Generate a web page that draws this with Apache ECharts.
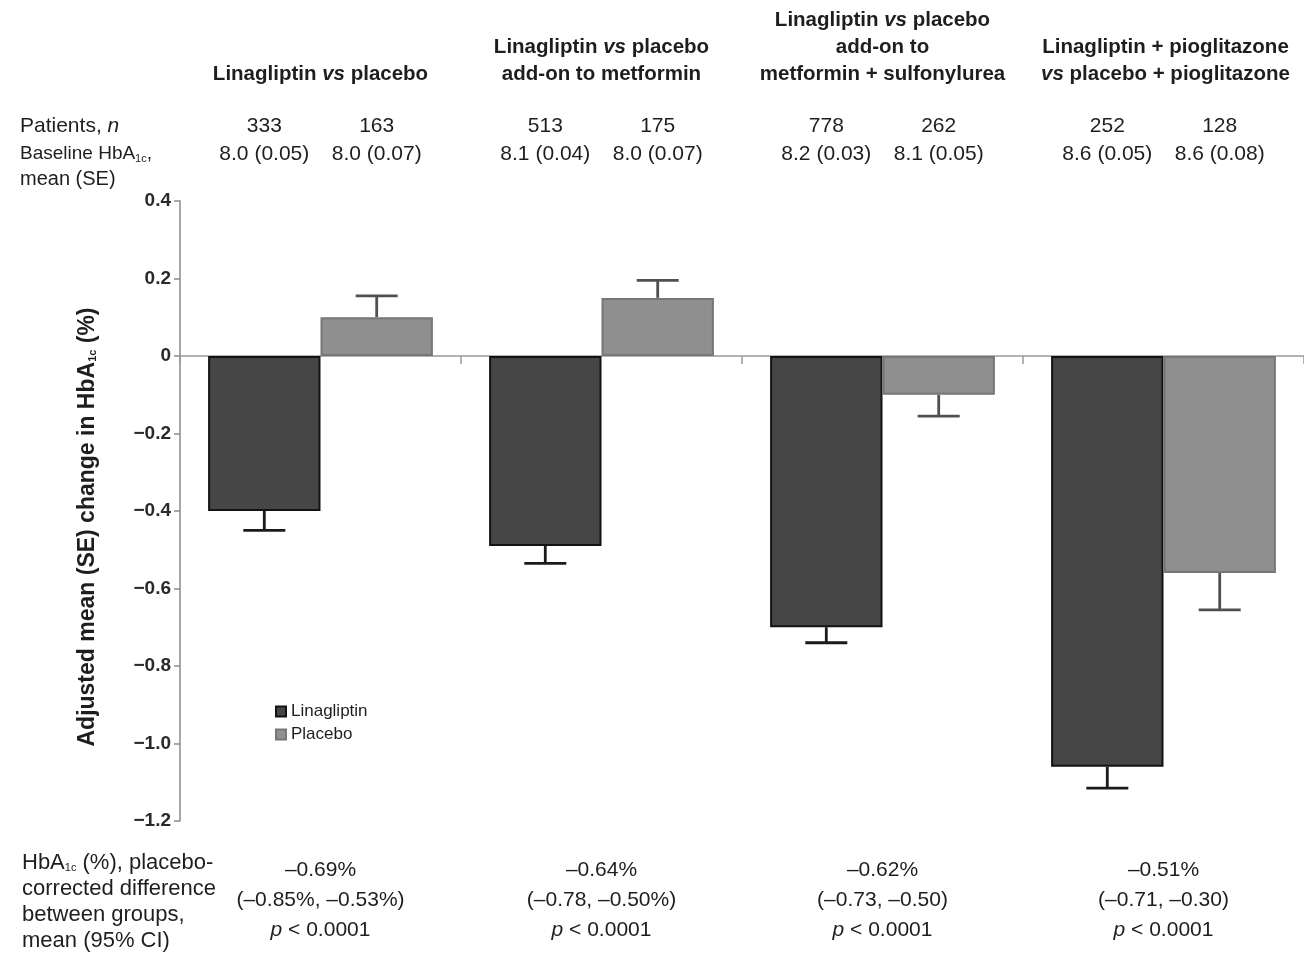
<!DOCTYPE html>
<html>
<head>
<meta charset="utf-8">
<script src="https://cdn.jsdelivr.net/npm/echarts@6/dist/echarts.min.js"></script>
<style>
  html, body { margin: 0; padding: 0; background: #fff; }
  #chart { width: 1304px; height: 956px; }
</style>
</head>
<body>
<div id="chart"></div>
<script>
// Study groups (header lines; {i|...} marks italic words)
const groupTitles = [
  ['Linagliptin {i|vs} placebo'],
  ['Linagliptin {i|vs} placebo', 'add-on to metformin'],
  ['Linagliptin {i|vs} placebo', 'add-on to', 'metformin + sulfonylurea'],
  ['Linagliptin + pioglitazone', '{i|vs} placebo + pioglitazone']
];
const categories = ['Monotherapy', 'Metformin', 'Metformin + SU', 'Pioglitazone'];
const seriesNames = ['Linagliptin', 'Placebo'];

// Patients and baseline HbA1c
const patientsLina = [333, 513, 778, 252];
const patientsPlacebo = [163, 175, 262, 128];
const baselineLina = ['8.0 (0.05)', '8.1 (0.04)', '8.2 (0.03)', '8.6 (0.05)'];
const baselinePlacebo = ['8.0 (0.07)', '8.0 (0.07)', '8.1 (0.05)', '8.6 (0.08)'];

// Adjusted mean change in HbA1c (%) and SE
const linaChange = [-0.40, -0.49, -0.70, -1.06];
const linaSE = [0.05, 0.045, 0.04, 0.055];
const placeboChange = [0.10, 0.15, -0.10, -0.56];
const placeboSE = [0.055, 0.045, 0.055, 0.095];

// Placebo-corrected difference
const diffMean = ['–0.69%', '–0.64%', '–0.62%', '–0.51%'];
const diffCI = ['(–0.85%, –0.53%)', '(–0.78, –0.50%)', '(–0.73, –0.50)', '(–0.71, –0.30)'];
const pValues = ['< 0.0001', '< 0.0001', '< 0.0001', '< 0.0001'];

// Y axis
const yMin = -1.2, yMax = 0.4, yStep = 0.2;

const FONT = '"Liberation Sans", Arial, Helvetica, sans-serif';
const TXT = '#1e1e1e';
const FS = 21;
const LINA_FILL = '#464646', LINA_EDGE = '#121212';
const PLAC_FILL = '#8f8f8f', PLAC_EDGE = '#767676';

const chart = echarts.init(document.getElementById('chart'), null, { renderer: 'canvas' });

const G = { left: 180, right: 0, top: 201, bottom: 135 };
const plotW = 1304 - G.left - G.right;
const band = plotW / categories.length;
const catCenter = i => G.left + band * (i + 0.5);
const barOff = band * 0.2;

function errData(vals, ses, side) {
  return vals.map((v, i) => [i, v, ses[i], side]);
}

function renderErr(color) {
  return function (params, api) {
    const ci = api.value(0), v = api.value(1), se = api.value(2), side = api.value(3);
    const bw = api.size([1, 0])[0];
    const p0 = api.coord([ci, v]);
    const end = v >= 0 ? v + se : v - se;
    const p1 = api.coord([ci, end]);
    const x = p0[0] + side * bw * 0.2;
    const cap = 21;
    const style = { stroke: color, lineWidth: 2.8 };
    return {
      type: 'group',
      children: [
        { type: 'line', shape: { x1: x, y1: p0[1], x2: x, y2: p1[1] }, style },
        { type: 'line', shape: { x1: x - cap, y1: p1[1], x2: x + cap, y2: p1[1] }, style }
      ]
    };
  };
}

const subStyle = (bold) => ({
  sub: { fontSize: 11, fontWeight: bold ? 'bold' : 'normal', fontFamily: FONT, fill: TXT, padding: [10, 0, 0, 0] }
});
const italic = (bold, size) => ({
  i: { fontStyle: 'italic', fontWeight: bold ? 'bold' : 'normal', fontSize: size, fontFamily: FONT, fill: TXT }
});

const graphics = [];
const t = (x, y, text, extra) => {
  graphics.push({
    type: 'text', x, y, silent: true,
    style: Object.assign({
      text, fontFamily: FONT, fontSize: FS, fill: TXT,
      align: 'center', verticalAlign: 'middle'
    }, extra || {})
  });
};

// Headers
groupTitles.forEach((lines, i) => {
  t(catCenter(i) + (i === 3 ? 2 : 0), 88, lines.join('\n'), {
    fontWeight: 'bold', fontSize: 20.5, lineHeight: 27, verticalAlign: 'bottom',
    rich: italic(true, 20.5)
  });
});

// Row labels
t(20, 126, 'Patients, {i|n}', { align: 'left', rich: italic(false, FS) });
t(20, 154, 'Baseline HbA{sub|1c},', { align: 'left', fontSize: 19, rich: subStyle(false) });
t(20, 179, 'mean (SE)', { align: 'left', fontSize: 20 });

// Patients / baseline values
categories.forEach((c, i) => {
  t(catCenter(i) - barOff, 126, String(patientsLina[i]));
  t(catCenter(i) + barOff, 126, String(patientsPlacebo[i]));
  t(catCenter(i) - barOff, 154, baselineLina[i]);
  t(catCenter(i) + barOff, 154, baselinePlacebo[i]);
});

// Bottom annotations
t(22, 902, 'HbA{sub|1c} (%), placebo-\ncorrected difference\nbetween groups,\nmean (95% CI)', {
  align: 'left', fontSize: 22, lineHeight: 26, rich: subStyle(false)
});
categories.forEach((c, i) => {
  t(catCenter(i), 900, diffMean[i] + '\n' + diffCI[i] + '\n{i|p} ' + pValues[i], {
    lineHeight: 30,
    rich: italic(false, FS)
  });
});

// Vertical axis title
graphics.push({
  type: 'text', x: 88, y: 527, rotation: Math.PI / 2, silent: true,
  style: {
    text: 'Adjusted mean (SE) change in HbA{sub|1c} (%)',
    fontFamily: FONT, fontSize: 23, fontWeight: 'bold', fill: TXT,
    align: 'center', verticalAlign: 'middle',
    rich: subStyle(true)
  }
});

const option = {
  backgroundColor: '#fff',
  animation: false,
  grid: { left: G.left, right: G.right, top: G.top, bottom: G.bottom, containLabel: false },
  legend: {
    orient: 'vertical', left: 275, top: 703, padding: 0,
    itemWidth: 10, itemHeight: 10, itemGap: 6,
    icon: 'rect',
    data: seriesNames,
    textStyle: { fontFamily: FONT, fontSize: 17, color: TXT, padding: [0, 0, 0, 0] }
  },
  xAxis: {
    type: 'category',
    data: categories,
    boundaryGap: true,
    axisLine: { onZero: true, lineStyle: { color: '#9a9a9a', width: 1.5 } },
    axisTick: { show: true, length: 8, inside: false, lineStyle: { color: '#9a9a9a', width: 1.5 } },
    axisLabel: { show: false },
    splitLine: { show: false }
  },
  yAxis: {
    type: 'value',
    min: yMin, max: yMax, interval: yStep,
    axisLine: { show: true, onZero: false, lineStyle: { color: '#8a8a8a', width: 1.5 } },
    axisTick: { show: true, length: 6, lineStyle: { color: '#8a8a8a', width: 1.5 } },
    splitLine: { show: false },
    axisLabel: {
      margin: 9,
      fontFamily: FONT, fontSize: 19, fontWeight: 'bold', color: '#2a2a2a',
      formatter: v => {
        const r = Math.round(v * 10) / 10;
        if (r === 0) return '0';
        return (r < 0 ? '−' : '') + Math.abs(r).toFixed(1);
      }
    }
  },
  series: [
    {
      name: seriesNames[0], type: 'bar', data: linaChange,
      barGap: '0%', barCategoryGap: '20%',
      itemStyle: { color: LINA_FILL, borderColor: LINA_EDGE, borderWidth: 2 },
      z: 3
    },
    {
      name: seriesNames[1], type: 'bar', data: placeboChange,
      barGap: '0%', barCategoryGap: '20%',
      itemStyle: { color: PLAC_FILL, borderColor: PLAC_EDGE, borderWidth: 2 },
      z: 3
    },
    {
      type: 'custom', name: 'linaErr', data: errData(linaChange, linaSE, -1),
      encode: { x: 0, y: 1 }, renderItem: renderErr('#1a1a1a'), z: 2, silent: true
    },
    {
      type: 'custom', name: 'placErr', data: errData(placeboChange, placeboSE, 1),
      encode: { x: 0, y: 1 }, renderItem: renderErr('#505050'), z: 2, silent: true
    }
  ],
  graphic: graphics
};

chart.setOption(option);
</script>
</body>
</html>
